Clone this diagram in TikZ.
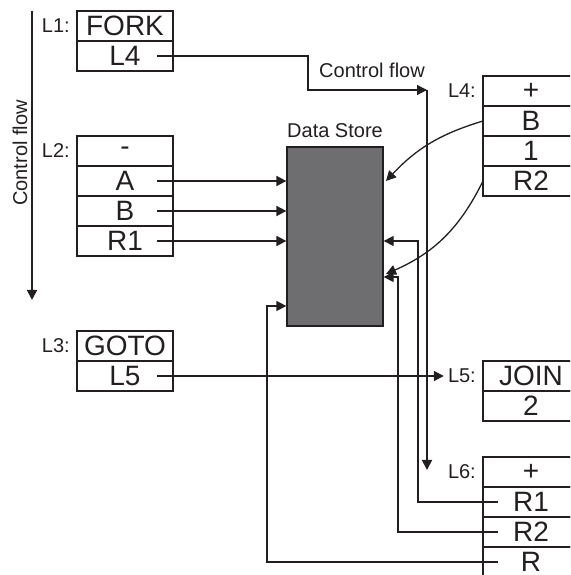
\documentclass[tikz,border=0pt]{standalone}
\usepackage{fontspec}
\setmainfont{Liberation Sans}
\usetikzlibrary{arrows.meta, positioning}
\definecolor{inkgray}{RGB}{35,31,32}
\definecolor{storegray}{RGB}{110,110,112}

\begin{document}
\begin{tikzpicture}[x=1pt, y=1pt,
	cell/.style={draw=inkgray, line width=1.3pt, minimum width=96pt, minimum height=30pt,
		inner sep=0pt, outer sep=0pt, text=inkgray, font=\fontsize{28}{28}\selectfont},
	lbl/.style={text=inkgray, inner sep=1pt, font=\fontsize{20}{20}\selectfont},
	pointer/.style={-{Triangle[length=10pt,width=10pt]}},
	flow/.style={draw=inkgray, line width=1.8pt, pointer},
	link/.style={draw=inkgray, line width=1.3pt}]
	\useasboundingbox (0,0) rectangle (570,575);
	\clip (0,0) rectangle (570,575);
	
	% left column
	\node[cell] (fork) at (125,549) {FORK};
	\node[cell, below=0pt of fork] (forkto) {L4};
	\node[lbl, left=6pt of fork] (lone) {L1:};
	
	\node[cell] (sub) at (125,424) {-};
	\node[cell, below=0pt of sub] (a) {A};
	\node[cell, below=0pt of a] (b) {B};
	\node[cell, below=0pt of b] (rone) {R1};
	\node[lbl, left=6pt of sub] (ltwo) {L2:};
	
	\node[cell] (goto) at (125,229) {GOTO};
	\node[cell, below=0pt of goto] (gototo) {L5};
	\node[lbl, left=6pt of goto] (lthree) {L3:};
	
	% right column
	\node[cell] (add) at (531,484) {+};
	\node[cell, below=0pt of add] (addb) {B};
	\node[cell, below=0pt of addb] (addone) {1};
	\node[cell, below=0pt of addone] (addr) {R2};
	\node[lbl, left=6pt of add] (lfour) {L4:};
	
	\node[cell] (join) at (531,199) {JOIN};
	\node[cell, below=0pt of join] (jointwo) {2};
	\node[lbl, left=6pt of join] (lfive) {L5:};
	
	\node[cell] (sum) at (531,103) {+};
	\node[cell, below=0pt of sum] (sumone) {R1};
	\node[cell, below=0pt of sumone] (sumtwo) {R2};
	\node[cell, below=0pt of sumtwo] (sumr) {R};
	\node[lbl, left=6pt of sum] (lsix) {L6:};
	
	% data store
	\node[draw=inkgray, line width=1.3pt, fill=storegray, minimum width=96pt,
		minimum height=179pt] (store) at (335,338.5) {};
	\node[lbl, above=7pt of store] (storelbl) {Data Store};
	
	% control flow on the left
	\coordinate (cstart) at (32,564);
	\coordinate (cend) at (32,275);
	\draw[flow] (cstart) -- (cend);
	\node[lbl, rotate=90] (clbl) at (20,422) {Control flow};
	
	% operands into the store
	\draw[flow] ([xshift=32pt]a.center) -- (store.west |- a.center);
	\draw[flow] ([xshift=32pt]b.center) -- (store.west |- b.center);
	\draw[flow] ([xshift=32pt]rone.center) -- (store.west |- rone.center);
	
	% fork
	\coordinate (fbend) at (308,485);
	\coordinate (fhit) at (427,485);
	\draw[link, pointer] ([xshift=32pt]forkto.center) -| (fbend) -- (fhit);
	\node[lbl] (flbl) at (372,505) {Control flow};
	\draw[flow] (fhit) -- ([yshift=2pt]fhit |- sum.west);
	
	% goto
	\draw[flow, shorten >=3pt] ([xshift=32pt]gototo.center) -- (lfive.west);
	
	% results of L4
	\coordinate (inb) at (386,394);
	\coordinate (inr) at (386,301);
	\draw[link, pointer] (addb.west) to[bend right=15] (inb);
	\draw[link, pointer] (addr.west) to[bend left=20] (inr);
	
	% operands of L6
	\coordinate (ronerun) at (418,334);
	\coordinate (rtworun) at (398,298);
	\coordinate (rrun) at (267,269);
	\draw[link, pointer] ([xshift=-33pt]sumone.center) -| (ronerun) -- (store.east |- ronerun);
	\draw[link, line width=1.6pt, pointer] ([xshift=-33pt]sumtwo.center) -| (rtworun) -- (store.east |- rtworun);
	\draw[link, pointer] ([xshift=-33pt]sumr.center) -| (rrun) -- (store.west |- rrun);
\end{tikzpicture}
\end{document}
